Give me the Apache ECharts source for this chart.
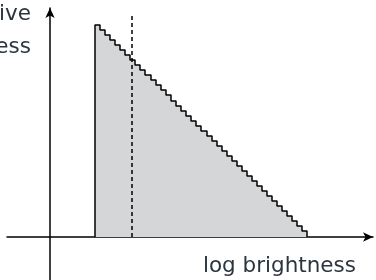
<!DOCTYPE html>
<html>
<head>
<meta charset="utf-8">
<script src="https://cdn.jsdelivr.net/npm/echarts@6/dist/echarts.min.js"></script>
<style>
  html, body { margin: 0; padding: 0; background: #fff; }
  #chart { width: 376px; height: 280px; }
</style>
</head>
<body>
<div id="chart"></div>
<script>
// step edges along log brightness (left edge of each step, plus final right edge)
const stepEdges = [45, 50, 55, 60, 65, 70, 75, 80, 85, 90, 95, 101, 106, 111, 116, 121, 126, 131, 136, 141, 146,
  151, 157, 162, 167, 172, 177, 182, 187, 192, 197, 202, 207, 212, 217, 222, 227, 232, 237, 242, 247, 252, 257];
// height of each step
const stepHeights = [212, 207, 202, 197, 192, 187, 182, 177, 172, 167, 162, 157, 152, 147, 142, 136, 131, 126, 121, 116,
  111, 106, 101, 96, 91, 86, 81, 76, 71, 66, 61, 56, 51, 46, 41, 36, 31, 26, 21, 16, 11, 6];
// dashed marker position and its top
const markerX = 82;
const markerTop = 222;

const xLabel = 'log brightness';
const yLabelLines = ['relative', 'brightness'];

const stepData = [[stepEdges[0], 0]];
stepHeights.forEach((h, i) => stepData.push([stepEdges[i], h]));
stepData.push([stepEdges[stepEdges.length - 1], 0]);

const chart = echarts.init(document.getElementById('chart'));

const axisLine = {
  show: true,
  onZero: true,
  symbol: ['none', 'arrow'],
  symbolSize: [7, 10],
  lineStyle: { color: '#000', width: 1.5 }
};

const labelStyle = {
  fontFamily: 'DejaVu Sans',
  fontSize: 21.5,
  fill: '#2b3540',
  verticalAlign: 'middle'
};

chart.setOption({
  animation: false,
  grid: { left: 7, right: 3, top: 8, bottom: 0 },
  xAxis: {
    type: 'value',
    min: -43,
    max: 323,
    axisLine: axisLine,
    axisTick: { show: false },
    axisLabel: { show: false },
    splitLine: { show: false }
  },
  yAxis: {
    type: 'value',
    min: -43,
    max: 229,
    axisLine: axisLine,
    axisTick: { show: false },
    axisLabel: { show: false },
    splitLine: { show: false }
  },
  series: [
    {
      type: 'line',
      step: 'end',
      symbol: 'none',
      data: stepData,
      lineStyle: { color: '#000', width: 1.5 },
      areaStyle: { color: '#d4d6d8', opacity: 1, origin: 0 },
      markLine: {
        silent: true,
        symbol: 'none',
        label: { show: false },
        lineStyle: { color: '#000', width: 1.5, type: [4, 3] },
        data: [[{ coord: [markerX, 0] }, { coord: [markerX, markerTop] }]]
      }
    }
  ],
  graphic: [
    {
      type: 'text',
      x: 356,
      y: 266,
      style: Object.assign({ text: xLabel, align: 'right' }, labelStyle)
    },
    {
      type: 'text',
      x: 31,
      y: 14,
      style: Object.assign({ text: yLabelLines[0], align: 'right' }, labelStyle)
    },
    {
      type: 'text',
      x: 31,
      y: 47,
      style: Object.assign({ text: yLabelLines[1], align: 'right' }, labelStyle)
    }
  ]
});

window.addEventListener('resize', () => {
  chart.resize();
});
</script>
</body>
</html>
